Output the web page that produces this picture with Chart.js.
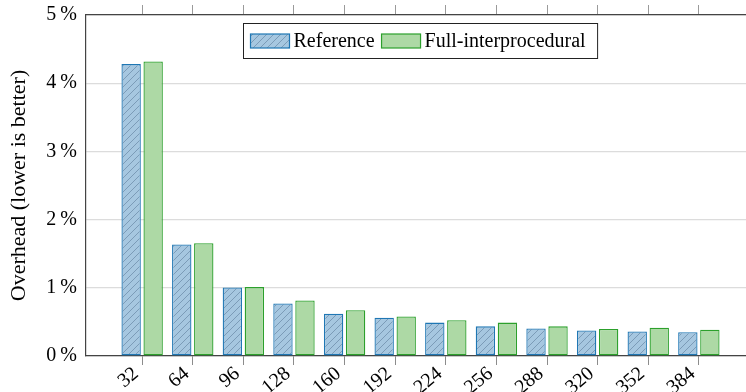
<!DOCTYPE html>
<html>
<head>
<meta charset="utf-8">
<script src="https://cdn.jsdelivr.net/npm/chart.js@4/dist/chart.umd.min.js"></script>
<style>
  html, body { margin: 0; padding: 0; background: #fff; overflow: hidden; }
  #wrap { position: relative; width: 760px; height: 392px; }
</style>
</head>
<body>
<div id="wrap"><canvas id="overheadChart"></canvas></div>
<script>
// Values (percent overhead)
const sizes = [32, 64, 96, 128, 160, 192, 224, 256, 288, 320, 352, 384];
const referenceOverhead = [4.28, 1.635, 1.005, 0.77, 0.62, 0.56, 0.49, 0.435, 0.405, 0.375, 0.36, 0.35];
const fullInterOverhead = [4.32, 1.655, 1.01, 0.815, 0.67, 0.58, 0.525, 0.49, 0.435, 0.395, 0.415, 0.385];
const yTicks = [0, 1, 2, 3, 4, 5];

const serif = "'Liberation Serif', 'DejaVu Serif', serif";

// Diagonal hatch for the reference bars
function makeHatch() {
  const c = document.createElement('canvas');
  c.width = 7; c.height = 7;
  const g = c.getContext('2d');
  g.fillStyle = 'rgb(166,199,224)';
  g.fillRect(0, 0, 7, 7);
  g.strokeStyle = 'rgba(90,120,150,0.7)';
  g.lineWidth = 0.8;
  g.beginPath();
  g.moveTo(0, 7); g.lineTo(7, 0);
  g.moveTo(-1, 1); g.lineTo(1, -1);
  g.moveTo(6, 8); g.lineTo(8, 6);
  g.stroke();
  return g.createPattern(c, 'repeat');
}
const hatch = makeHatch();

// Boxed legend inside the plot, centred at the top
const boxedLegend = {
  id: 'boxedLegend',
  afterDraw(chart) {
    const { ctx, chartArea } = chart;
    const sets = chart.data.datasets;
    ctx.save();
    ctx.font = "20px " + serif;
    const sw = 39, sh = 14, padL = 7, padR = 12, gap = 4, between = 7;
    let w = padL + padR;
    sets.forEach((ds, i) => {
      w += sw + gap + ctx.measureText(ds.label).width + (i < sets.length - 1 ? between : 0);
    });
    const h = 35;
    const left = Math.round((chartArea.left + chartArea.right) / 2 - w / 2) + 0.5;
    const top = Math.round(chartArea.top) + 8.5;
    ctx.fillStyle = '#fff';
    ctx.fillRect(left, top, w, h);
    ctx.strokeStyle = '#222';
    ctx.lineWidth = 1;
    ctx.strokeRect(left, top, w, h);
    let x = left + padL;
    const midY = top + h / 2;
    sets.forEach((ds, i) => {
      ctx.fillStyle = ds.backgroundColor;
      ctx.fillRect(x, midY - sh / 2, sw, sh);
      ctx.strokeStyle = ds.borderColor;
      ctx.lineWidth = 1.2;
      ctx.strokeRect(x, midY - sh / 2, sw, sh);
      x += sw + gap;
      ctx.fillStyle = '#000';
      ctx.textBaseline = 'middle';
      ctx.textAlign = 'left';
      ctx.fillText(ds.label, x, midY + 1);
      x += ctx.measureText(ds.label).width + between;
    });
    ctx.restore();
  }
};

const setTicks = (scale) => { scale.ticks = sizes.map(v => ({ value: v })); };

new Chart(document.getElementById('overheadChart'), {
  type: 'bar',
  data: {
    datasets: [{
      label: 'Reference',
      data: sizes.map((s, i) => ({ x: s, y: referenceOverhead[i] })),
      backgroundColor: hatch,
      borderColor: 'rgb(31,119,180)',
      borderWidth: 1.3,
      borderSkipped: false,
      categoryPercentage: 0.87,
      barPercentage: 0.88
    }, {
      label: 'Full-interprocedural',
      data: sizes.map((s, i) => ({ x: s, y: fullInterOverhead[i] })),
      backgroundColor: 'rgb(173,217,165)',
      borderColor: 'rgb(44,160,44)',
      borderWidth: 1.3,
      borderSkipped: false,
      categoryPercentage: 0.87,
      barPercentage: 0.88
    }]
  },
  options: {
    responsive: true,
    maintainAspectRatio: false,
    animation: false,
    layout: { padding: { left: 0, right: 5, top: 0, bottom: 0 } },
    plugins: {
      legend: { display: false },
      tooltip: { enabled: false }
    },
    scales: {
      x: {
        type: 'linear',
        position: 'bottom',
        offset: false,
        min: -3.5,
        max: 419.5,
        afterBuildTicks: setTicks,
        afterFit: (s) => { s.height = 36; },
        grid: { offset: false, drawOnChartArea: false, drawTicks: true, tickLength: 9, color: '#8c8c8c' },
        border: { display: true, color: '#444', width: 1.2 },
        ticks: {
          autoSkip: false,
          minRotation: 40,
          maxRotation: 40,
          padding: -3,
          labelOffset: -6,
          color: '#000',
          font: { family: serif, size: 20 },
          callback: (v) => String(v)
        }
      },
      xTop: {
        type: 'linear',
        position: 'top',
        offset: false,
        min: -3.5,
        max: 419.5,
        afterBuildTicks: setTicks,
        afterFit: (s) => { s.height = 15; },
        grid: { offset: false, drawOnChartArea: false, drawTicks: true, tickLength: 10, color: '#9a9a9a' },
        border: { display: true, color: '#444', width: 1.2 },
        ticks: { display: false }
      },
      y: {
        min: 0,
        max: 5,
        afterBuildTicks: (scale) => { scale.ticks = yTicks.map(v => ({ value: v })); },
        afterFit: (s) => { s.width = 86; },
        grid: { color: '#dcdcdc', drawTicks: true, tickLength: 9, tickColor: 'rgba(0,0,0,0)', lineWidth: 1.2 },
        border: { display: true, color: '#444', width: 1.2 },
        ticks: {
          padding: 0,
          color: '#000',
          font: { family: serif, size: 20 },
          callback: (v) => v + '\u2009%'
        },
        title: {
          display: true,
          text: 'Overhead (lower is better)',
          color: '#000',
          font: { family: serif, size: 22 },
          padding: { top: 6, bottom: 0 }
        }
      }
    }
  },
  plugins: [boxedLegend]
});
</script>
</body>
</html>
